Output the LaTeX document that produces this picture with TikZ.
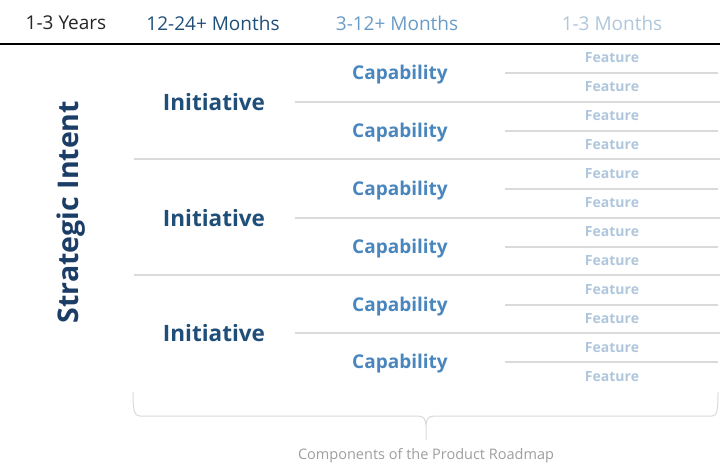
\documentclass[tikz,border=0pt]{standalone}
\usepackage{fontspec}
\setmainfont{Open Sans}
\definecolor{navy}{HTML}{1B3D66}
\definecolor{darkblue}{HTML}{1F4E79}
\definecolor{midblue}{HTML}{4A86BE}
\definecolor{headblue}{HTML}{6A9BC6}
\definecolor{lightblue}{HTML}{AFC6DC}
\definecolor{sepgray}{HTML}{DADADA}
\begin{document}
\begin{tikzpicture}[
    x=1pt, y=-1pt,
    header/.style={font=\fontsize{19}{21}\selectfont, anchor=center},
    initiative/.style={font=\fontsize{22.5}{24}\selectfont\bfseries, text=darkblue},
    capability/.style={font=\fontsize{19}{21}\selectfont\bfseries, text=midblue},
    feature/.style={font=\fontsize{14}{16}\selectfont\bfseries, text=lightblue},
    sep/.style={draw=sepgray, line width=1.2pt}
]
\useasboundingbox (0,0) rectangle (720,475);

% Header
\node[header, text=black!85] (years) at (66,23) {1-3 Years};
\node[header, text=darkblue] (longterm) at (213,23) {12-24+ Months};
\node[header, text=headblue] (midterm) at (397,23) {3-12+ Months};
\node[header, text=lightblue] (shortterm) at (612,23) {1-3 Months};
\draw[black, line width=1.5pt] (0,44) -- (720,44);

% Strategic intent
\node[font=\fontsize{28.5}{30}\selectfont\bfseries, text=navy, rotate=90] (intent) at (71,212) {Strategic Intent};

% Initiatives
\node[initiative] (init1) at (214,102) {Initiative};
\node[initiative] (init2) at (214,218) {Initiative};
\node[initiative] (init3) at (214,333) {Initiative};

% Capabilities
\node[capability] (cap1) at (400,75) {Capability};
\node[capability] (cap2) at (400,133) {Capability};
\node[capability] (cap3) at (400,191) {Capability};
\node[capability] (cap4) at (400,249) {Capability};
\node[capability] (cap5) at (400,307) {Capability};
\node[capability] (cap6) at (400,364) {Capability};

% Features
\node[feature] (feat1) at (612,58) {Feature};
\node[feature] (feat2) at (612,87) {Feature};
\node[feature] (feat3) at (612,116) {Feature};
\node[feature] (feat4) at (612,145) {Feature};
\node[feature] (feat5) at (612,174) {Feature};
\node[feature] (feat6) at (612,203) {Feature};
\node[feature] (feat7) at (612,232) {Feature};
\node[feature] (feat8) at (612,261) {Feature};
\node[feature] (feat9) at (612,290) {Feature};
\node[feature] (feat10) at (612,319) {Feature};
\node[feature] (feat11) at (612,348) {Feature};
\node[feature] (feat12) at (612,377) {Feature};

% Separators
\draw[sep] (134,159) -- (720,159);
\draw[sep] (134,275) -- (720,275);
\draw[sep] (295,102) -- (720,102);
\draw[sep] (295,218) -- (720,218);
\draw[sep] (295,333) -- (720,333);
\draw[sep] (505,73) -- (718,73);
\draw[sep] (505,131) -- (718,131);
\draw[sep] (505,189) -- (718,189);
\draw[sep] (505,247) -- (718,247);
\draw[sep] (505,305) -- (718,305);
\draw[sep] (505,362) -- (718,362);

% Brace
\draw[sepgray, line width=1pt]
  (133,392) .. controls (133,410) and (134,416) .. (140,416) -- (418,416)
  .. controls (424,416) and (426,420) .. (426,426) -- (426,440)
  (426,426) .. controls (426,420) and (428,416) .. (434,416) -- (712,416)
  .. controls (717,416) and (718,410) .. (718,392);
\node[font=\fontsize{14.5}{16}\selectfont, text=black!38] (caption) at (426,456) {Components of the Product Roadmap};

\end{tikzpicture}
\end{document}
